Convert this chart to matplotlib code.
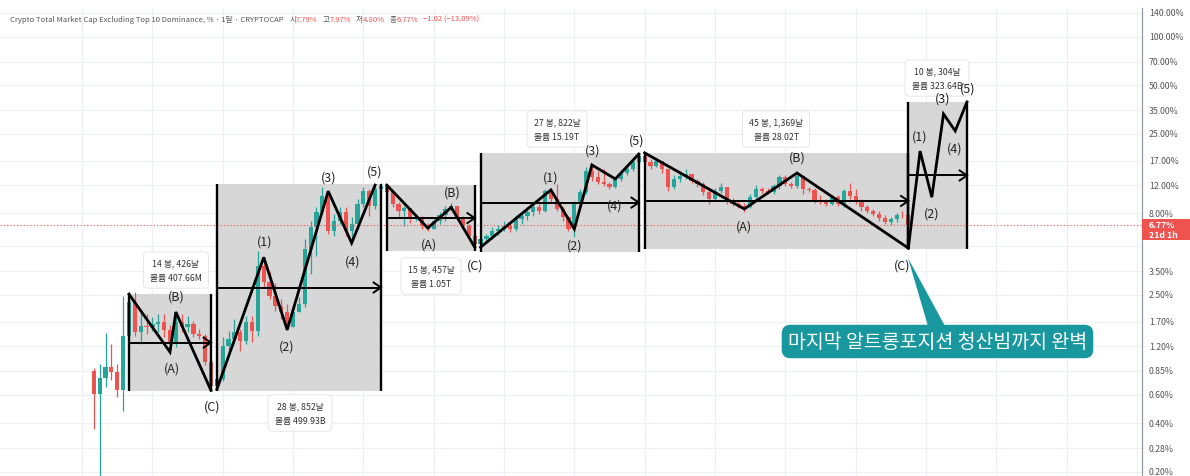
import numpy as np
import matplotlib
matplotlib.use('Agg')
import matplotlib.pyplot as plt
from matplotlib.patches import Rectangle, Polygon

plt.rcParams['font.family'] = ['Noto Sans CJK KR', 'DejaVu Sans']

# ---------------- data (monthly candles, %) ----------------
first_open = 0.84
closes = [0.61, 0.76, 0.90, 0.83, 0.64, 1.39, 2.26, 1.47, 1.61, 1.58,
          1.65, 1.70, 1.51, 1.24, 1.70, 1.58, 1.65, 1.43, 1.39, 0.96,
          0.68, 0.75, 1.21, 1.33, 1.47, 1.30, 1.70, 1.49, 3.78, 2.99,
          2.46, 2.14, 1.96, 1.58, 1.96, 2.20, 4.82, 6.59, 8.17, 10.28,
          6.23, 7.19, 8.17, 6.23, 6.88, 9.16, 11.04, 8.91, 11.35, 11.85,
          10.88, 9.16, 8.29, 8.66, 7.39, 7.61, 6.69, 6.41, 7.19, 7.83,
          8.53, 8.91, 7.61, 6.69, 5.80, 5.17, 5.56, 5.80, 6.23, 6.41,
          6.69, 6.41, 7.39, 7.72, 8.17, 8.78, 8.29, 11.04, 9.84, 8.53,
          7.61, 6.41, 9.16, 10.88, 14.67, 13.47, 12.54, 12.19, 11.68, 13.09,
          14.27, 15.10, 16.67, 18.17, 16.67, 15.75, 16.91, 15.10, 11.68, 13.09,
          13.66, 14.06, 12.72, 12.19, 10.88, 9.84, 11.04, 11.68, 9.57, 9.16,
          8.91, 8.78, 10.13, 11.35, 11.04, 10.88, 11.85, 13.47, 12.19, 11.85,
          13.66, 11.35, 11.19, 9.57, 9.43, 9.16, 10.13, 9.16, 11.04, 10.28,
          9.43, 8.78, 8.29, 7.94, 7.50, 7.08, 7.39, 7.83, 7.79, 6.77]
highs = [0.88, 0.93, 1.45, 1.24, 0.93, 2.46, 2.61, 2.61, 1.96, 1.90,
         1.82, 1.90, 1.90, 1.63, 1.96, 1.90, 1.85, 1.72, 1.54, 1.43,
         1.00, 0.77, 1.37, 1.49, 1.77, 1.54, 1.85, 1.85, 4.70, 4.30,
         3.48, 2.95, 2.36, 2.20, 2.14, 2.42, 5.56, 7.19, 8.78, 11.68,
         11.04, 7.94, 8.78, 8.78, 7.61, 9.84, 11.68, 11.35, 12.02, 12.37,
         12.02, 11.04, 9.43, 8.91, 8.53, 7.94, 7.72, 6.98, 7.39, 8.17,
         8.91, 9.30, 8.91, 7.72, 6.88, 6.14, 5.72, 5.97, 6.59, 6.78,
         7.19, 6.98, 7.83, 8.29, 8.78, 9.16, 9.16, 11.35, 11.35, 12.19,
         8.78, 7.72, 9.57, 11.35, 15.53, 16.21, 14.67, 15.10, 12.54, 13.47,
         14.67, 15.53, 17.41, 18.70, 19.00, 17.41, 17.41, 16.91, 15.10, 13.86,
         14.67, 15.10, 14.06, 13.09, 12.54, 11.35, 11.52, 12.37, 11.68, 9.99,
         9.70, 9.30, 10.57, 12.02, 11.68, 11.52, 12.19, 13.86, 13.86, 12.54,
         14.27, 13.66, 11.68, 11.52, 10.43, 9.84, 10.43, 10.43, 11.35, 12.37,
         11.35, 9.84, 9.03, 8.53, 8.29, 7.83, 7.61, 8.06, 8.29, 7.97]
lows = [0.37, 0.17, 0.67, 0.74, 0.58, 0.48, 1.33, 1.39, 1.24, 1.43,
        1.49, 1.47, 1.37, 1.16, 1.19, 1.47, 1.47, 1.37, 1.33, 0.92,
        0.64, 0.66, 0.73, 1.08, 1.24, 1.12, 1.24, 1.28, 1.39, 2.76,
        2.36, 1.99, 1.77, 1.51, 1.65, 1.96, 2.11, 3.37, 4.36, 7.94,
        5.97, 5.80, 6.88, 5.80, 5.25, 6.41, 8.78, 7.72, 8.53, 10.88,
        10.28, 8.78, 7.61, 6.69, 6.98, 7.19, 6.41, 6.23, 6.41, 6.88,
        7.19, 8.29, 7.39, 6.50, 5.56, 4.94, 4.94, 5.40, 5.56, 5.88,
        6.23, 6.14, 6.23, 6.88, 7.29, 7.72, 7.94, 8.17, 9.43, 8.29,
        7.19, 6.23, 5.72, 8.78, 10.57, 12.72, 12.19, 11.85, 11.35, 11.52,
        12.72, 13.86, 14.67, 16.21, 16.21, 15.10, 15.53, 14.27, 11.04, 11.35,
        12.54, 13.09, 12.37, 11.68, 10.43, 9.16, 9.70, 10.73, 9.16, 8.91,
        8.66, 8.17, 8.66, 9.70, 10.73, 10.57, 10.57, 11.35, 11.85, 11.52,
        11.52, 10.57, 10.88, 9.30, 9.16, 8.91, 9.03, 8.91, 8.78, 9.84,
        9.16, 8.29, 8.06, 7.72, 7.19, 6.88, 6.78, 7.08, 7.50, 4.80]

# Elliott wave drawings (bar index, %)
box_starts = [6, 21, 50, 66, 94, 139]
box_ends = [20, 49, 65, 93, 139, 149]
box_tops = [2.53, 12.2, 12.0, 19.0, 19.0, 39.3]
box_bottoms = [0.634, 0.634, 4.68, 4.6, 4.82, 4.82]
box_info = ["14 봉, 426날\n볼륨 407.66M", "28 봉, 852날\n볼륨 499.93B",
            "15 봉, 457날\n볼륨 1.05T", "27 봉, 822날\n볼륨 15.19T",
            "45 봉, 1,369날\n볼륨 28.02T", "10 봉, 304날\n볼륨 323.64B"]

wave_x = [[6, 13, 14, 20],
          [21, 29, 33, 40, 44, 48],
          [50, 57, 61, 65],
          [66, 78, 82, 85, 89, 93],
          [94, 111, 120, 139],
          [139, 141, 143, 145, 147, 149]]
wave_y = [[2.53, 1.107, 1.96, 0.64],
          [0.65, 4.28, 1.52, 11.0, 5.25, 12.0],
          [12.0, 6.5, 8.74, 4.94],
          [4.94, 11.2, 6.41, 16.0, 13.1, 18.7],
          [19.0, 8.53, 14.26, 4.88],
          [4.88, 19.5, 10.1, 33.1, 26.0, 39.3]]
wave_labels = [["(A)", "(B)", "(C)"],
               ["(1)", "(2)", "(3)", "(4)", "(5)"],
               ["(A)", "(B)", "(C)"],
               ["(1)", "(2)", "(3)", "(4)", "(5)"],
               ["(A)", "(B)", "(C)"],
               ["(1)", "(2)", "(3)", "(4)", "(5)"]]

price_ticks = [140, 100, 70, 50, 35, 25, 17, 12, 8, 3.5, 2.5, 1.7, 1.2, 0.85, 0.6, 0.4, 0.28, 0.2]
price_tick_labels = ["140.00%", "100.00%", "70.00%", "50.00%", "35.00%", "25.00%", "17.00%",
                     "12.00%", "8.00%", "3.50%", "2.50%", "1.70%", "1.20%", "0.85%", "0.60%",
                     "0.40%", "0.28%", "0.20%"]
last_price = 6.77
last_label = "6.77%\n21d 1h"
callout_text = "마지막 알트롱포지션 청산빔까지 완벽"

# ---------------- layout helpers (pixel positions) ----------------
W, H = 1190, 477
def fx(px): return px / W
def fy(py): return 1 - py / H

UP = '#26a69a'
DN = '#ef5350'
GRID = '#eef0f5'
TEAL = '#18979f'

fig = plt.figure(figsize=(W / 100, H / 100), dpi=100)
ax = fig.add_axes([0, 0, fx(1142), 1 - 9 / H])
ax.set_yscale('log')
ax.set_xlim(-16.007, 178.87)
ax.set_ylim(0.1887, 150.3)
ax.axis('off')

# grid
for v in price_ticks + [5.0]:
    ax.axhline(v, color=GRID, lw=0.9, zorder=0)
for gx in range(-2, 180, 12):
    ax.axvline(gx, color=GRID, lw=0.9, zorder=0)

# boxes
for s, e, t, b in zip(box_starts, box_ends, box_tops, box_bottoms):
    ax.add_patch(Rectangle((s, b), e - s, t - b, fc='#d7d7d7', ec='none', zorder=1))

# candles
opens = [first_open] + closes[:-1]
xs = np.arange(len(closes))
for x, o, h, l, c in zip(xs, opens, highs, lows, closes):
    col = UP if c >= o else DN
    ax.vlines(x, min(l, o, c), max(h, o, c), color=col, lw=0.9, zorder=2)
    lo_, hi_ = min(o, c), max(o, c)
    if hi_ / lo_ < 1.012:
        hi_ = lo_ * 1.012
    ax.add_patch(Rectangle((x - 0.36, lo_), 0.72, hi_ - lo_, fc=col, ec='none', zorder=2))

# box edges + mid arrows
f_head = 10 ** (5 / 161.3)
for s, e, t, b in zip(box_starts, box_ends, box_tops, box_bottoms):
    ax.vlines([s, e], b, t, color='black', lw=1.7, zorder=3)
    mid = np.sqrt(t * b)
    ax.plot([s, e], [mid, mid], color='black', lw=1.4, zorder=3)
    ax.plot([e - 1.25, e, e - 1.25], [mid * f_head, mid, mid / f_head], color='black', lw=1.4,
            zorder=3, solid_joinstyle='miter')

# waves
for wx, wy in zip(wave_x, wave_y):
    ax.plot(wx, wy, color='black', lw=2.0, zorder=3, solid_joinstyle='miter')

# wave labels (pixel layout positions)
label_pos = [[(172, 369), (176, 297), (212, 407)],
             [(265, 242), (287, 347), (329, 178), (353, 262), (375, 172)],
             [(429, 245), (452, 193), (475, 266)],
             [(551, 178), (575, 246), (593, 151), (615, 206), (637, 141)],
             [(744, 227), (797, 158), (902, 266)],
             [(920, 137), (932, 214), (943, 99), (955, 149), (968, 89)]]
for labs, poss in zip(wave_labels, label_pos):
    for lab, (px, py) in zip(labs, poss):
        fig.text(fx(px), fy(py), lab, fontsize=9, color='#222222', ha='center', va='center', zorder=7)

# info boxes
info_pos = [(176, 271), (300, 414), (431, 277), (557, 130), (776, 130), (937, 79)]
for txt, (px, py) in zip(box_info, info_pos):
    fig.text(fx(px), fy(py), txt, fontsize=6.3, color='#333333', ha='center', va='center',
             linespacing=1.75, zorder=6,
             bbox=dict(boxstyle='round,pad=0.75,rounding_size=0.5', fc='white', ec='#e6e6e6', lw=0.7))

# last price line
ax.axhline(last_price, color=DN, lw=0.8, ls=(0, (1, 2)), zorder=2)

# price axis
axr = fig.add_axes([fx(1142), 0, 1 - fx(1142), 1 - 9 / H])
axr.set_yscale('log')
axr.set_ylim(0.1887, 150.3)
axr.set_xlim(0, 1)
axr.set_xticks([]); axr.set_yticks([])
axr.minorticks_off()
for sp in ['top', 'right', 'bottom']:
    axr.spines[sp].set_visible(False)
axr.spines['left'].set_color('#9598a1')
axr.spines['left'].set_linewidth(0.9)
for v, lab in zip(price_ticks, price_tick_labels):
    axr.text(0.14, v, lab, fontsize=6.3, color='#555555', va='center', ha='left', clip_on=True)
axr.add_patch(Rectangle((0.0, 5.48), 1.0, 7.39 - 5.48, fc=DN, ec='none', zorder=3))
axr.text(0.14, np.sqrt(5.48 * 7.39), last_label, fontsize=6.3, color='white', va='center', ha='left',
         linespacing=1.15, zorder=4, fontweight='bold')

# title
pieces = [("Crypto Total Market Cap Excluding Top 10 Dominance, % · 1달 · CRYPTOCAP", '#555555', 0),
          ("시", '#555555', 4), ("7.79%", DN, 0), ("고", '#555555', 3.5), ("7.97%", DN, 0),
          ("저", '#555555', 3.5), ("4.80%", DN, 0), ("종", '#555555', 3.5), ("6.77%", DN, 0),
          ("−1.02 (−13.09%)", DN, 3.5)]
prev = None
for txt, col, gap in pieces:
    if prev is None:
        prev = fig.text(fx(10), fy(20), txt, fontsize=5.5, color=col, ha='left', va='center')
    else:
        prev = ax.annotate(txt, xy=(1, 0.5), xycoords=prev, xytext=(gap, 0), textcoords='offset points',
                           fontsize=5.5, color=col, ha='left', va='center', annotation_clip=False)

# callout
tri = Polygon([(fx(908), fy(259)), (fx(928), fy(327)), (fx(945), fy(327))], closed=True,
              fc=TEAL, ec='none', transform=fig.transFigure, zorder=8)
fig.add_artist(tri)
fig.text(fx(937.5), fy(342.5), callout_text, fontsize=14, color='white', style='italic',
         ha='center', va='center', zorder=9,
         bbox=dict(boxstyle='round,pad=0.32,rounding_size=0.45', fc=TEAL, ec='none'))

fig.savefig('out.png', dpi=100)
